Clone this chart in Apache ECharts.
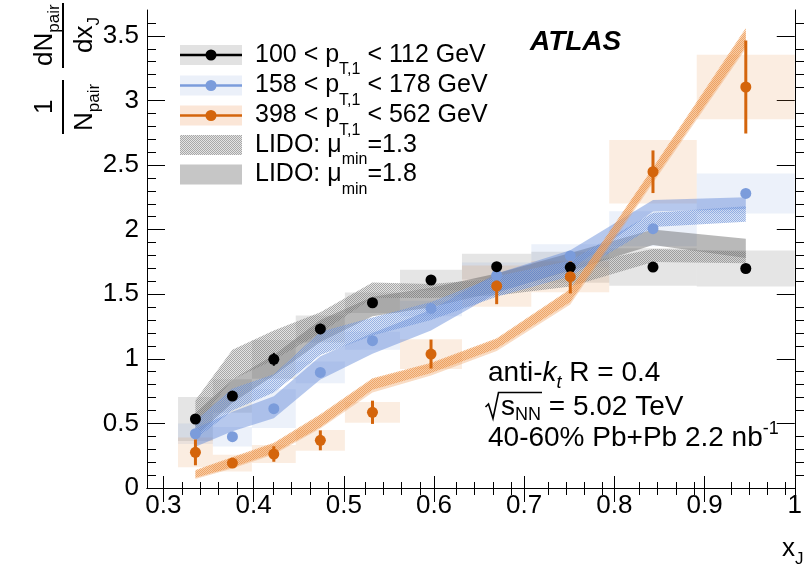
<!DOCTYPE html>
<html><head><meta charset="utf-8">
<script src="https://cdn.jsdelivr.net/npm/echarts@6/dist/echarts.min.js"></script>
<style>html,body{margin:0;padding:0;background:#fff}#c{width:805px;height:568px}</style>
</head><body><div id="c"></div>
<script>
// ---- data ----
const xjLow     = [0.3162,0.3548,0.3981,0.4467,0.5012,0.5623,0.6310,0.7079,0.7943,0.8913];
const xjHigh    = [0.3548,0.3981,0.4467,0.5012,0.5623,0.6310,0.7079,0.7943,0.8913,1.0000];
const xjCenters = [0.3355,0.3765,0.4224,0.4740,0.5318,0.5967,0.6695,0.7511,0.8428,0.9457];

const pt100Val  = [0.534,0.712,0.996,1.231,1.434,1.610,1.713,1.708,1.710,1.699];
const pt100Stat = [0.03,0.03,0.05,0.04,0.02,0.02,0.02,0.02,0.02,0.02];
const pt100Sys  = [0.17,0.13,0.15,0.105,0.08,0.08,0.10,0.12,0.145,0.14];

const pt158Val  = [0.42,0.397,0.614,0.895,1.140,1.390,1.646,1.796,2.007,2.280];
const pt158Stat = [0.02,0.02,0.02,0.02,0.02,0.02,0.02,0.02,0.02,0.03];
const pt158Sys  = [0.08,0.075,0.15,0.085,0.07,0.06,0.10,0.09,0.135,0.155];

const pt398Val  = [0.276,0.193,0.263,0.369,0.586,1.037,1.563,1.636,2.448,3.104];
const pt398Stat = [0.10,0.03,0.06,0.077,0.09,0.112,0.14,0.13,0.165,0.36];
const pt398Sys  = [0.115,0.065,0.07,0.08,0.08,0.115,0.16,0.12,0.245,0.25];

const lido13_100Lo = [0.48,0.84,0.99,1.20,1.47,1.47,1.49,1.56,1.75,1.74];
const lido13_100Hi = [0.68,1.07,1.22,1.36,1.59,1.58,1.62,1.72,1.85,1.83];
const lido18_100Lo = [0.40,0.66,0.87,1.13,1.33,1.40,1.52,1.68,1.88,1.78];
const lido18_100Hi = [0.58,0.84,1.03,1.30,1.48,1.55,1.66,1.82,2.00,1.93];
const lido13_158Lo = [0.38,0.60,0.74,1.03,1.18,1.30,1.48,1.64,2.02,2.06];
const lido13_158Hi = [0.52,0.77,0.88,1.21,1.32,1.44,1.64,1.76,2.13,2.18];
const lido18_158Lo = [0.32,0.44,0.54,0.84,1.04,1.22,1.51,1.69,2.14,2.16];
const lido18_158Hi = [0.46,0.59,0.71,1.02,1.20,1.38,1.66,1.84,2.23,2.25];
const lido13_398Lo = [0.08,0.16,0.27,0.47,0.76,0.89,1.08,1.44,2.38,3.42];
const lido13_398Hi = [0.14,0.24,0.35,0.57,0.85,0.97,1.16,1.54,2.48,3.56];
const lido18_398Lo = [0.07,0.15,0.26,0.46,0.74,0.87,1.06,1.42,2.36,3.40];
const lido18_398Hi = [0.13,0.23,0.34,0.56,0.84,0.96,1.15,1.53,2.47,3.54];

const xMajorTicks = [0.3,0.4,0.5,0.6,0.7,0.8,0.9,1.0];
const xMinorTicks = [0.32,0.34,0.36,0.38,0.42,0.44,0.46,0.48,0.52,0.54,0.56,0.58,0.62,0.64,0.66,0.68,0.72,0.74,0.76,0.78,0.82,0.84,0.86,0.88,0.92,0.94,0.96,0.98];
const yMajorTicks = [0,0.5,1,1.5,2,2.5,3,3.5];
const yMinorTicks = [0.1,0.2,0.3,0.4,0.6,0.7,0.8,0.9,1.1,1.2,1.3,1.4,1.6,1.7,1.8,1.9,2.1,2.2,2.3,2.4,2.6,2.7,2.8,2.9,3.1,3.2,3.3,3.4,3.6];

// ---- styling ----
const FONT = '"Liberation Sans", Arial, Helvetica, sans-serif';
const C_BLACK = '#000000', C_BLUE = '#7b9cdb', C_ORANGE = '#d4650c';

function makePattern(colA, colB) {
  const c = document.createElement('canvas'); c.width = 2; c.height = 2;
  const g = c.getContext('2d');
  g.fillStyle = colA; g.fillRect(0,0,1,1); g.fillRect(1,1,1,1);
  g.fillStyle = colB; g.fillRect(1,0,1,1); g.fillRect(0,1,1,1);
  return {image: c, repeat: 'repeat'};
}
const patGray   = makePattern('rgba(115,115,115,0.62)', 'rgba(185,185,185,0.4)');
const patBlue   = makePattern('rgba(100,140,214,0.66)', 'rgba(160,186,232,0.4)');
const patOrange = makePattern('rgba(234,140,62,0.68)', 'rgba(245,182,125,0.42)');

const mctx = document.createElement('canvas').getContext('2d');
function fontStr(p){ return (p.italic?'italic ':'') + (p.bold?'bold ':'') + p.s + 'px ' + FONT; }
function tw(p){ mctx.font = fontStr(p); return mctx.measureText(p.t).width; }
function textRun(x, y, parts) {
  const els = []; let cx = x;
  parts.forEach(p => {
    els.push({type:'text', x: cx, y: y + (p.dy||0), z: 100,
      style:{text:p.t, font:fontStr(p), fill:'#000', align:'left', verticalAlign:'middle', textAlign:'left', textVerticalAlign:'middle'}});
    cx += tw(p);
  });
  return els;
}
function textRunUp(x, yBottom, parts) {
  const els = []; let cy = yBottom;
  parts.forEach(p => {
    els.push({type:'text', x: x + (p.dy||0), y: cy, rotation: Math.PI/2, z: 100,
      style:{text:p.t, font:fontStr(p), fill:'#000', align:'left', verticalAlign:'middle', textAlign:'left', textVerticalAlign:'middle'}});
    cy -= tw(p);
  });
  return els;
}

// ---- series builders ----
function boxSeries(val, sys, color) {
  return {type:'custom', silent:true, z:1, encode:{x:[0,1], y:[2,3]},
    data: val.map((v,i)=>[xjLow[i], xjHigh[i], v-sys[i], v+sys[i]]),
    renderItem:(params, api)=>{
      const a = api.coord([api.value(0), api.value(3)]);
      const b = api.coord([api.value(1), api.value(2)]);
      return {type:'rect', shape:{x:a[0], y:a[1], width:b[0]-a[0], height:b[1]-a[1]}, style:{fill:color}};
    }};
}
function bandSeries(lo, hi, fill) {
  return {type:'custom', silent:true, z:2, encode:{x:0, y:[1,2]},
    data: xjCenters.map((x,i)=>[x, lo[i], hi[i]]),
    renderItem:(params, api)=>{
      if (params.dataIndex !== 0) return null;
      const pts = [];
      for (let i=0;i<xjCenters.length;i++) pts.push(api.coord([xjCenters[i], hi[i]]));
      for (let i=xjCenters.length-1;i>=0;i--) pts.push(api.coord([xjCenters[i], lo[i]]));
      return {type:'polygon', shape:{points:pts}, style:{fill:fill}};
    }};
}
function errSeries(val, err, color, w) {
  return {type:'custom', silent:true, z:3, encode:{x:0, y:[1,2]},
    data: val.map((v,i)=>[xjCenters[i], v-err[i], v+err[i]]),
    renderItem:(params, api)=>{
      const a = api.coord([api.value(0), api.value(1)]);
      const b = api.coord([api.value(0), api.value(2)]);
      return {type:'line', shape:{x1:a[0], y1:a[1], x2:b[0], y2:b[1]}, style:{stroke:color, lineWidth:w}};
    }};
}
function pointSeries(val, color, z) {
  return {type:'scatter', silent:true, z:z, symbol:'circle', symbolSize:11,
    itemStyle:{color:color, opacity:1}, data: val.map((v,i)=>[xjCenters[i], v])};
}

// ---- axes ----
const XMIN = 0.2818, XMAX = 1.0, YMIN = 0, YMAX = 3.7;
function xAx(grid, pos, major, len, labels) {
  return {type:'value', gridIndex:grid, position:pos, min:XMIN, max:XMAX,
    axisLine:{show:major, lineStyle:{color:'#000', width:1}},
    splitLine:{show:false},
    axisTick:{show:true, inside:true, length:len, customValues: major ? xMajorTicks : xMinorTicks, lineStyle:{color:'#000', width:1}},
    axisLabel:{show:labels, customValues:xMajorTicks, margin:5, fontSize:26, fontFamily:FONT, color:'#000',
      formatter:v => (Math.abs(v-1)<1e-9 ? '1' : v.toFixed(1))}};
}
function yAx(grid, pos, major, len, labels) {
  return {type:'value', gridIndex:grid, position:pos, min:YMIN, max:YMAX,
    axisLine:{show:major, lineStyle:{color:'#000', width:1}},
    splitLine:{show:false},
    axisTick:{show:true, inside:true, length:len, customValues: major ? yMajorTicks : yMinorTicks, lineStyle:{color:'#000', width:1}},
    axisLabel:{show:labels, customValues:yMajorTicks, margin:8, fontSize:26, fontFamily:FONT, color:'#000',
      formatter:v => String(v)}};
}

// ---- graphics: legend, labels, titles ----
const g = [];
const rowsY = [55, 85.5, 115.5, 145, 174.5];
const legendBoxFill = ['#e2e2e2', '#ebf0f9', '#fbe6d7'];
const legendLine = [C_BLACK, C_BLUE, C_ORANGE];
for (let i=0;i<3;i++) {
  g.push({type:'rect', shape:{x:180, y:rowsY[i]-10, width:62, height:20}, style:{fill:legendBoxFill[i]}, z:90});
  g.push({type:'line', shape:{x1:180, y1:rowsY[i], x2:242, y2:rowsY[i]}, style:{stroke:legendLine[i], lineWidth:2.5}, z:91});
  g.push({type:'circle', shape:{cx:211, cy:rowsY[i], r:5.5}, style:{fill:legendLine[i]}, z:92});
}
g.push({type:'rect', shape:{x:180, y:rowsY[3]-10, width:62, height:20}, style:{fill:patGray}, z:90});
g.push({type:'rect', shape:{x:180, y:rowsY[4]-10, width:62, height:20}, style:{fill:'#c6c6c6'}, z:90});
const legendTexts = [
  [{t:'100 < p', s:25}, {t:'T,1', s:16, dy:15}, {t:' < 112 GeV', s:25}],
  [{t:'158 < p', s:25}, {t:'T,1', s:16, dy:15}, {t:' < 178 GeV', s:25}],
  [{t:'398 < p', s:25}, {t:'T,1', s:16, dy:15}, {t:' < 562 GeV', s:25}],
  [{t:'LIDO: \u03bc', s:25}, {t:'min', s:16, dy:15}, {t:'=1.3', s:25}],
  [{t:'LIDO: \u03bc', s:25}, {t:'min', s:16, dy:15}, {t:'=1.8', s:25}]
];
legendTexts.forEach((parts,i)=>{ g.push(...textRun(255, rowsY[i], parts)); });

g.push(...textRun(530, 42, [{t:'ATLAS', s:28, bold:true, italic:true}]));

g.push(...textRun(488, 373, [{t:'anti-', s:28}, {t:'k', s:28, italic:true}, {t:'t', s:18, italic:true, dy:10}, {t:' R = 0.4', s:28}]));
g.push({type:'polyline', shape:{points:[[485.5,407],[488.5,404],[493,418.5],[498.5,392.5],[542,392.5]]}, style:{stroke:'#000', lineWidth:1.6, fill:null}, z:100});
g.push(...textRun(501, 407, [{t:'s', s:28}, {t:'NN', s:18, dy:8}, {t:' = 5.02 TeV', s:28}]));
g.push(...textRun(488, 438, [{t:'40-60% Pb+Pb 2.2 nb', s:28}, {t:'-1', s:18, dy:-9}]));

// x title
g.push(...textRun(782, 549, [{t:'x', s:26}, {t:'J', s:17, dy:10}]));

// y title (rotated fractions)
g.push(...textRunUp(45, 66, [{t:'dN', s:26}, {t:'pair', s:17, dy:9}]));
g.push({type:'line', shape:{x1:63, y1:3, x2:63, y2:68}, style:{stroke:'#000', lineWidth:2}, z:100});
g.push(...textRunUp(85, 53, [{t:'dx', s:26}, {t:'J', s:17, dy:9}]));
g.push(...textRunUp(45, 114, [{t:'1', s:26}]));
g.push({type:'line', shape:{x1:63, y1:80, x2:63, y2:134}, style:{stroke:'#000', lineWidth:2}, z:100});
g.push(...textRunUp(85, 131, [{t:'N', s:26}, {t:'pair', s:17, dy:9}]));

const option = {
  animation:false,
  backgroundColor:'#fff',
  grid:[{left:147, right:1, top:10, bottom:80}, {left:147, right:1, top:10, bottom:80}],
  xAxis:[xAx(0,'bottom',true,12,true), xAx(0,'top',true,14,false), xAx(1,'bottom',false,6,false), xAx(1,'top',false,7,false)],
  yAxis:[yAx(0,'left',true,18,true), yAx(0,'right',true,18,false), yAx(1,'left',false,9,false), yAx(1,'right',false,9,false)],
  series:[
    boxSeries(pt100Val, pt100Sys, 'rgba(0,0,0,0.10)'),
    boxSeries(pt158Val, pt158Sys, 'rgba(123,156,219,0.14)'),
    boxSeries(pt398Val, pt398Sys, 'rgba(230,140,70,0.16)'),
    bandSeries(lido18_100Lo, lido18_100Hi, 'rgba(80,80,80,0.40)'),
    bandSeries(lido13_100Lo, lido13_100Hi, patGray),
    bandSeries(lido18_158Lo, lido18_158Hi, 'rgba(95,135,215,0.46)'),
    bandSeries(lido13_158Lo, lido13_158Hi, patBlue),
    bandSeries(lido18_398Lo, lido18_398Hi, 'rgba(238,155,85,0.35)'),
    bandSeries(lido13_398Lo, lido13_398Hi, patOrange),
    errSeries(pt158Val, pt158Stat, C_BLUE, 2),
    errSeries(pt100Val, pt100Stat, C_BLACK, 2),
    errSeries(pt398Val, pt398Stat, C_ORANGE, 3),
    pointSeries(pt158Val, C_BLUE, 4),
    pointSeries(pt100Val, C_BLACK, 5),
    pointSeries(pt398Val, C_ORANGE, 6)
  ],
  graphic: g
};
const chart = echarts.init(document.getElementById('c'), null, {renderer:'canvas'});
chart.setOption(option);
</script>
</body></html>
